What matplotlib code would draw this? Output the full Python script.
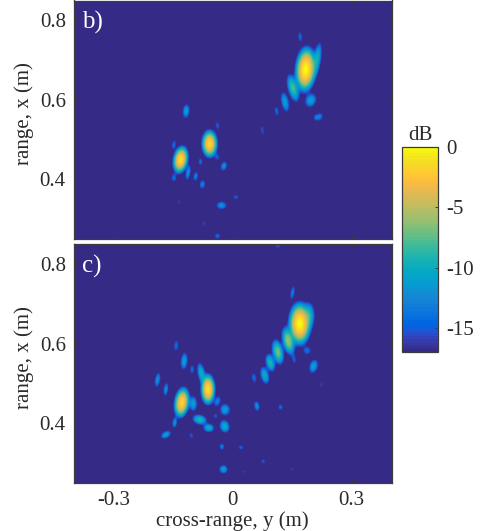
import numpy as np
import matplotlib
matplotlib.use("Agg")
import matplotlib.pyplot as plt
from matplotlib.colors import ListedColormap

plt.rcParams['font.family'] = ['Liberation Serif', 'DejaVu Serif']
plt.rcParams['mathtext.fontset'] = 'stix'

# Parula colour table
PARULA = ListedColormap([
    (0.2081,0.1663,0.5292),(0.2116,0.1898,0.5777),(0.2123,0.2138,0.6270),(0.2081,0.2386,0.6771),
    (0.1959,0.2645,0.7279),(0.1707,0.2919,0.7792),(0.1253,0.3242,0.8303),(0.0591,0.3598,0.8683),
    (0.0117,0.3875,0.8820),(0.0060,0.4086,0.8828),(0.0165,0.4266,0.8786),(0.0329,0.4430,0.8720),
    (0.0498,0.4586,0.8641),(0.0629,0.4737,0.8554),(0.0723,0.4887,0.8467),(0.0779,0.5040,0.8384),
    (0.0793,0.5200,0.8312),(0.0749,0.5375,0.8263),(0.0641,0.5570,0.8240),(0.0488,0.5772,0.8228),
    (0.0343,0.5966,0.8199),(0.0265,0.6137,0.8135),(0.0239,0.6287,0.8038),(0.0231,0.6418,0.7913),
    (0.0228,0.6535,0.7768),(0.0267,0.6642,0.7607),(0.0384,0.6743,0.7436),(0.0590,0.6838,0.7254),
    (0.0843,0.6928,0.7062),(0.1133,0.7015,0.6859),(0.1453,0.7098,0.6646),(0.1801,0.7177,0.6424),
    (0.2178,0.7250,0.6193),(0.2586,0.7317,0.5954),(0.3022,0.7376,0.5712),(0.3482,0.7424,0.5473),
    (0.3953,0.7459,0.5244),(0.4420,0.7481,0.5033),(0.4871,0.7491,0.4840),(0.5300,0.7491,0.4661),
    (0.5709,0.7485,0.4494),(0.6099,0.7473,0.4337),(0.6473,0.7456,0.4188),(0.6834,0.7435,0.4044),
    (0.7184,0.7411,0.3905),(0.7525,0.7384,0.3768),(0.7858,0.7356,0.3633),(0.8185,0.7327,0.3498),
    (0.8507,0.7299,0.3360),(0.8824,0.7274,0.3217),(0.9139,0.7258,0.3063),(0.9450,0.7261,0.2886),
    (0.9739,0.7314,0.2666),(0.9938,0.7455,0.2403),(0.9990,0.7653,0.2164),(0.9955,0.7861,0.1967),
    (0.9880,0.8066,0.1794),(0.9789,0.8271,0.1633),(0.9697,0.8481,0.1475),(0.9626,0.8705,0.1309),
    (0.9589,0.8949,0.1132),(0.9598,0.9218,0.0948),(0.9661,0.9514,0.0755),(0.9763,0.9831,0.0538),
])

DB_MIN = -17.0

# Image lobes: cross-range y, range x, peak dB, half-width, half-height, tilt in degrees
lobes_b = [
    (0.183, 0.676, 0.0, 0.029, 0.062, 4),
    (0.2126, 0.703, -10, 0.010, 0.042, 8),
    (0.151, 0.629, -8, 0.014, 0.037, -15),
    (0.131, 0.594, -11, 0.010, 0.026, -12),
    (0.196, 0.598, -11, 0.014, 0.018, 25),
    (0.110, 0.571, -14, 0.005, 0.012, -10),
    (0.210, 0.555, -13.5, 0.007, 0.008, 0),
    (0.220, 0.558, -14, 0.006, 0.008, 0),
    (0.169, 0.758, -14, 0.005, 0.012, -5),
    (0.074, 0.523, -15.5, 0.005, 0.012, -5),
    (-0.118, 0.571, -11, 0.009, 0.018, 5),
    (-0.059, 0.489, -1.5, 0.022, 0.038, 0),
    (-0.132, 0.449, -1.0, 0.021, 0.038, 10),
    (-0.149, 0.487, -14, 0.005, 0.011, 10),
    (-0.039, 0.535, -15, 0.005, 0.010, -10),
    (-0.113, 0.416, -12, 0.006, 0.019, 10),
    (-0.094, 0.407, -13, 0.006, 0.012, 10),
    (-0.149, 0.403, -14, 0.006, 0.009, 0),
    (-0.082, 0.444, -14, 0.005, 0.009, 0),
    (-0.039, 0.455, -15, 0.005, 0.007, 0),
    (-0.023, 0.433, -12, 0.008, 0.012, 15),
    (-0.077, 0.387, -13, 0.007, 0.011, 10),
    (-0.029, 0.334, -12, 0.013, 0.010, 0),
    (0.007, 0.355, -15, 0.007, 0.006, 0),
    (-0.136, 0.342, -16, 0.004, 0.008, 0),
    (-0.073, 0.289, -16, 0.005, 0.008, 0),
    (-0.039, 0.257, -14, 0.007, 0.007, 0),
]

lobes_c = [
    (0.168, 0.650, 0.0, 0.031, 0.059, 0),
    (0.192, 0.671, -10, 0.014, 0.032, 0),
    (0.139, 0.607, -6, 0.016, 0.038, -12),
    (0.113, 0.579, -7, 0.015, 0.034, -12),
    (0.094, 0.552, -9, 0.012, 0.024, -14),
    (0.080, 0.520, -10, 0.011, 0.023, -14),
    (0.053, 0.514, -14, 0.006, 0.012, -10),
    (0.150, 0.728, -13, 0.005, 0.017, 10),
    (0.187, 0.582, -14, 0.009, 0.009, 20),
    (0.154, 0.560, -15, 0.004, 0.010, -10),
    (0.203, 0.543, -11, 0.011, 0.018, 15),
    (0.223, 0.497, -16, 0.004, 0.008, 10),
    (0.060, 0.443, -12, 0.007, 0.013, -10),
    (0.120, 0.440, -14, 0.006, 0.007, 0),
    (0.113, 0.845, -15, 0.006, 0.004, 0),
    (-0.143, 0.595, -14, 0.006, 0.013, 5),
    (-0.123, 0.556, -11, 0.009, 0.022, 5),
    (-0.103, 0.535, -14, 0.005, 0.011, 0),
    (-0.080, 0.526, -10, 0.010, 0.027, -10),
    (-0.063, 0.485, -1.0, 0.020, 0.042, 0),
    (-0.129, 0.452, -1.5, 0.021, 0.042, 8),
    (-0.190, 0.509, -12, 0.007, 0.019, 10),
    (-0.169, 0.485, -12, 0.006, 0.017, 8),
    (-0.100, 0.449, -11, 0.010, 0.019, 0),
    (-0.039, 0.455, -13, 0.007, 0.013, 20),
    (-0.020, 0.434, -11, 0.013, 0.015, 0),
    (-0.084, 0.409, -9, 0.019, 0.013, 15),
    (-0.044, 0.418, -15, 0.005, 0.006, 0),
    (-0.061, 0.388, -10, 0.014, 0.011, 5),
    (-0.021, 0.392, -10, 0.013, 0.017, -15),
    (-0.147, 0.401, -12, 0.006, 0.013, 5),
    (-0.169, 0.371, -11, 0.014, 0.009, -30),
    (-0.105, 0.369, -15, 0.005, 0.007, 0),
    (-0.028, 0.341, -13, 0.006, 0.008, 0),
    (0.020, 0.339, -14, 0.006, 0.005, 0),
    (0.076, 0.304, -15, 0.005, 0.006, 0),
    (-0.024, 0.284, -11, 0.011, 0.011, 0),
    (0.028, 0.278, -16, 0.005, 0.004, 0),
    (0.148, 0.285, -16, 0.005, 0.005, 0),
]

panel_names = ["b)", "c)"]
x_ticks = [-0.3, 0, 0.3]
x_tick_labels = ["-0.3", "0", "0.3"]
y_ticks = [0.4, 0.6, 0.8]
y_tick_labels = ["0.4", "0.6", "0.8"]
cbar_ticks = [0, -5, -10, -15]
cbar_tick_labels = ["0", "-5", "-10", "-15"]

W, H = 480, 531
AX_L, AX_R = 73.5, 391.5
PANELS = [(0.5, 238.8), (244.4, 483.0)]
EDGE = "#3c3c3c"
INK = "#2a2a2a"
FS = 15


def px_axes(fig, left, top, right, bottom):
    return fig.add_axes([left / W, 1 - bottom / H, (right - left) / W, (bottom - top) / H])


def field(lobes, yy, xx):
    power = np.zeros(yy.shape)
    for cy, cx, peak, a, b, tilt in lobes:
        t = np.radians(tilt)
        u = (yy - cy) * np.cos(t) - (xx - cx) * np.sin(t)
        v = (yy - cy) * np.sin(t) + (xx - cx) * np.cos(t)
        # Half-axes are taken at the floor of the colour range
        db = peak - (peak - DB_MIN) * ((u / a) ** 2 + (v / b) ** 2)
        power += 10 ** (np.maximum(db, -80) / 10)
    return np.clip(10 * np.log10(power), DB_MIN, 0)


fig = plt.figure(figsize=(W / 100, H / 100), dpi=100)
gy, gx = np.meshgrid(np.linspace(-0.4, 0.4, 800), np.linspace(0.25, 0.85, 600))

for i, (lobes, name, (top, bottom)) in enumerate(zip([lobes_b, lobes_c], panel_names, PANELS)):
    ax = px_axes(fig, AX_L, top, AX_R, bottom)
    im = ax.imshow(field(lobes, gy, gx), origin="lower", extent=[-0.4, 0.4, 0.25, 0.85],
                   aspect="auto", cmap=PARULA, vmin=DB_MIN, vmax=0, interpolation="bilinear")
    ax.set_xticks(x_ticks)
    ax.set_yticks(y_ticks)
    ax.set_yticklabels(y_tick_labels, fontsize=FS, color=INK)
    ax.tick_params(direction="in", top=True, right=True, length=3, width=0.7, color=EDGE, pad=5.5)
    ax.tick_params(axis="x", pad=6)
    if i == 1:
        ax.set_xticklabels(x_tick_labels, fontsize=FS, color=INK)
        ax.set_xlabel("cross-range, y (m)", fontsize=FS, color=INK, labelpad=1)
    else:
        ax.set_xticklabels([])
    ax.set_ylabel("range, x (m)", fontsize=FS, color=INK)
    ax.yaxis.set_label_coords(-0.124, 0.524)
    ax.text(0.028, 0.955, name, transform=ax.transAxes, color="white", fontsize=18, va="top", ha="left")
    for s in ax.spines.values():
        s.set_color(EDGE)
        s.set_linewidth(0.9)

cax = px_axes(fig, 402.3, 146.7, 438.3, 352.3)
cb = fig.colorbar(im, cax=cax)
cb.set_ticks(cbar_ticks)
cb.set_ticklabels(cbar_tick_labels, fontsize=FS, color=INK)
cb.ax.tick_params(direction="in", length=2.5, width=0.7, color=EDGE, pad=5.5)
cb.outline.set_edgecolor(EDGE)
cb.outline.set_linewidth(0.9)
cax.set_title("dB", fontsize=FS, color=INK, pad=5)

fig.savefig("out.png", dpi=100)
